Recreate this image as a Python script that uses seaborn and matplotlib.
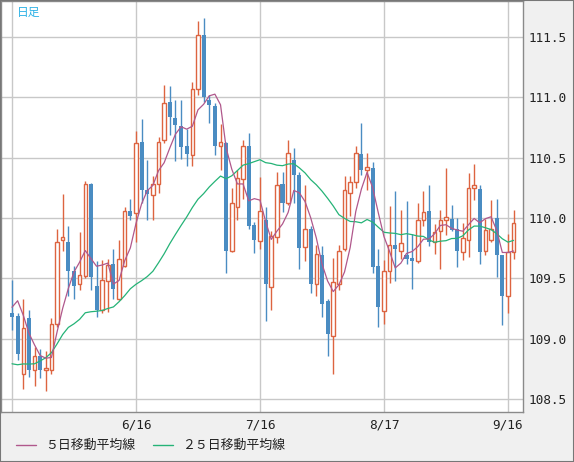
import numpy as np
import pandas as pd
import matplotlib
matplotlib.use('Agg')
import matplotlib.pyplot as plt
from matplotlib.lines import Line2D
from matplotlib.patches import Rectangle
import seaborn as sns

sns.set_theme(style="white")
plt.rcParams['font.family'] = ['Noto Sans CJK JP', 'DejaVu Sans']

UP = "#dd6440"
DOWN = "#4a8cc2"
MA5_COLOR = "#b0588c"
MA25_COLOR = "#25b377"
GRID = "#c8c8c8"

# daily candles, 2021-05-17 .. 2021-09-17 (weekdays)
dates = pd.bdate_range("2021-05-17", "2021-09-17")

opens = [109.21, 109.19, 108.71, 109.17, 108.74, 108.86, 108.74, 108.74, 109.12, 109.82,
         109.80, 109.56, 109.45, 109.52, 110.28, 109.44, 109.24, 109.48, 109.62, 109.33,
         109.60, 110.06, 110.04, 110.63, 110.23, 110.19, 110.28, 110.65, 110.96, 110.83,
         110.76, 110.60, 110.52, 111.07, 111.52, 110.98, 110.93, 110.60, 110.62, 109.73,
         110.09, 110.32, 110.60, 109.94, 109.81, 109.98, 109.43, 109.84, 110.28, 110.12,
         110.48, 110.36, 109.76, 109.91, 109.45, 109.69, 109.31, 109.02, 109.45, 109.74,
         110.21, 110.30, 110.53, 110.40, 110.41, 109.60, 109.23, 109.56, 109.78, 109.73,
         109.69, 109.67, 109.64, 109.98, 110.06, 109.80, 109.89, 109.98, 109.99, 109.91,
         109.72, 109.82, 110.25, 110.24, 109.73, 109.82, 110.00, 109.69, 109.35, 109.72]
highs = [109.49, 109.21, 109.33, 109.24, 108.93, 108.91, 108.90, 109.17, 109.91, 110.20,
         109.93, 109.60, 109.88, 110.31, 110.29, 109.64, 109.65, 109.66, 109.74, 109.82,
         110.09, 110.16, 110.72, 110.82, 110.48, 110.35, 110.67, 111.10, 111.09, 110.98,
         110.98, 110.74, 111.13, 111.63, 111.66, 111.02, 110.95, 110.78, 110.63, 110.25,
         110.40, 110.65, 110.70, 109.97, 110.34, 110.09, 109.89, 110.38, 110.38, 110.65,
         110.58, 110.38, 110.27, 109.93, 109.78, 109.77, 109.33, 109.67, 109.78, 110.35,
         110.35, 110.60, 110.79, 110.54, 110.46, 109.74, 109.65, 110.10, 110.22, 110.07,
         110.14, 109.87, 110.12, 110.22, 110.27, 109.95, 110.07, 110.41, 110.11, 110.00,
         109.96, 110.37, 110.45, 110.27, 109.99, 110.15, 110.16, 109.69, 109.87, 110.07]
lows = [109.07, 108.82, 108.58, 108.68, 108.61, 108.67, 108.57, 108.71, 109.10, 109.73,
        109.35, 109.33, 109.40, 109.50, 109.40, 109.18, 109.21, 109.22, 109.33, 109.32,
        109.59, 109.98, 109.80, 110.12, 109.98, 109.98, 110.21, 110.62, 110.69, 110.47,
        110.49, 110.43, 110.43, 111.02, 110.96, 110.79, 110.52, 110.40, 109.54, 109.72,
        109.98, 110.16, 109.91, 109.71, 109.74, 109.15, 109.24, 109.79, 110.05, 110.11,
        110.12, 109.58, 109.64, 109.38, 109.35, 109.18, 108.86, 108.71, 109.40, 109.73,
        110.02, 110.25, 110.36, 110.23, 109.54, 109.10, 109.12, 109.46, 109.48, 109.66,
        109.62, 109.41, 109.63, 109.93, 109.77, 109.70, 109.58, 109.86, 109.89, 109.59,
        109.65, 109.68, 110.15, 109.62, 109.69, 109.80, 109.51, 109.11, 109.21, 109.66]
closes = [109.18, 108.87, 109.09, 108.74, 108.86, 108.74, 108.76, 109.12, 109.80, 109.84,
          109.56, 109.44, 109.53, 110.28, 109.51, 109.24, 109.49, 109.61, 109.41, 109.66,
          110.06, 110.02, 110.62, 110.23, 110.20, 110.28, 110.63, 110.95, 110.84, 110.77,
          110.59, 110.53, 111.07, 111.52, 111.00, 110.94, 110.60, 110.63, 109.73, 110.12,
          110.33, 110.60, 109.93, 109.82, 110.06, 109.45, 109.85, 110.27, 110.12, 110.54,
          110.36, 109.75, 109.91, 109.45, 109.70, 109.29, 109.04, 109.47, 109.73, 110.23,
          110.30, 110.54, 110.40, 110.42, 109.59, 109.26, 109.56, 109.78, 109.74, 109.79,
          109.66, 109.64, 109.98, 110.05, 109.80, 109.88, 109.98, 110.01, 109.90, 109.73,
          109.83, 110.25, 110.27, 109.72, 109.90, 109.91, 109.69, 109.35, 109.72, 109.96]
# closes before the visible window (needed for the moving averages)
prev_closes = [109.07, 108.92, 108.77, 108.80, 108.15, 108.09, 108.08, 107.98, 107.88, 108.10,
               108.70, 108.60, 108.92, 109.30, 109.13, 109.33, 109.21, 109.08, 108.58, 108.80,
               108.60, 109.69, 109.48, 109.35]

tick_dates = ["2021-05-17", "2021-06-16", "2021-07-16", "2021-08-17", "2021-09-16"]
tick_labels = ["", "6/16", "7/16", "8/17", "9/16"]
y_ticks = [108.5, 109.0, 109.5, 110.0, 110.5, 111.0, 111.5]

df = pd.DataFrame({"open": opens, "high": highs, "low": lows, "close": closes}, index=dates)
idx = np.arange(len(df))
allc = pd.Series(prev_closes + closes)
ma5 = allc.rolling(5).mean().iloc[len(prev_closes):].values
ma25 = allc.rolling(25).mean().iloc[len(prev_closes):].values

fig = plt.figure(figsize=(5.74, 4.62), dpi=100, facecolor="#f0f0f0")
ax = fig.add_axes([1 / 574, 50 / 462, 522 / 574, 411 / 462])
ax.set_facecolor("white")

up = (df["close"] >= df["open"]).values
o, h, l, c = (df[k].values for k in ["open", "high", "low", "close"])

ax.vlines(idx, l, h, colors=np.where(up, UP, DOWN), lw=1, zorder=2)
ax.bar(idx[~up], (o - c)[~up], bottom=c[~up], width=0.72, color=DOWN, lw=0, zorder=3)
ax.bar(idx[up], np.maximum(c - o, 0.01)[up], bottom=o[up], width=0.62,
       facecolor="white", edgecolor=UP, lw=1, zorder=3)

sns.lineplot(x=idx, y=ma25, ax=ax, color=MA25_COLOR, lw=0.9, zorder=4)
sns.lineplot(x=idx, y=ma5, ax=ax, color=MA5_COLOR, lw=0.9, zorder=5)

ax.set_xlim(-1.95, 90.67)
ax.set_ylim(108.392, 111.798)
ax.set_xticks([df.index.get_loc(pd.Timestamp(d)) for d in tick_dates])
ax.set_xticklabels(tick_labels, family="DejaVu Sans Mono", fontsize=9.2, color="#222")
ax.set_yticks(y_ticks)
ax.set_yticklabels([f"{v:.1f}" for v in y_ticks], family="DejaVu Sans Mono", fontsize=9.2, color="#222")
ax.yaxis.tick_right()
ax.tick_params(axis="x", length=0, pad=5)
ax.tick_params(axis="y", length=0, pad=4)
ax.grid(True, color=GRID, lw=1)
ax.set_axisbelow(True)
for s in ax.spines.values():
    s.set_color("#8a8a8a")
    s.set_linewidth(1)

ax.text(16 / 522, 1 - 11 / 411, "日足", transform=ax.transAxes, color="#2eb2e6",
        fontsize=8.5, va="center", ha="left")

# legend strip at the bottom
ly = 1 - 445 / 462
fig.add_artist(Line2D([16 / 574, 36 / 574], [ly, ly], color=MA5_COLOR, lw=1))
fig.text(45 / 574, ly, "５日移動平均線", fontsize=9.3, color="#222", va="center")
fig.add_artist(Line2D([153 / 574, 173 / 574], [ly, ly], color=MA25_COLOR, lw=1))
fig.text(182 / 574, ly, "２５日移動平均線", fontsize=9.3, color="#222", va="center")

fig.add_artist(Rectangle((0, 0), 1, 1, transform=fig.transFigure, fill=False,
                         edgecolor="#777777", lw=1.5))

fig.savefig("out.png", dpi=100, facecolor=fig.get_facecolor())
